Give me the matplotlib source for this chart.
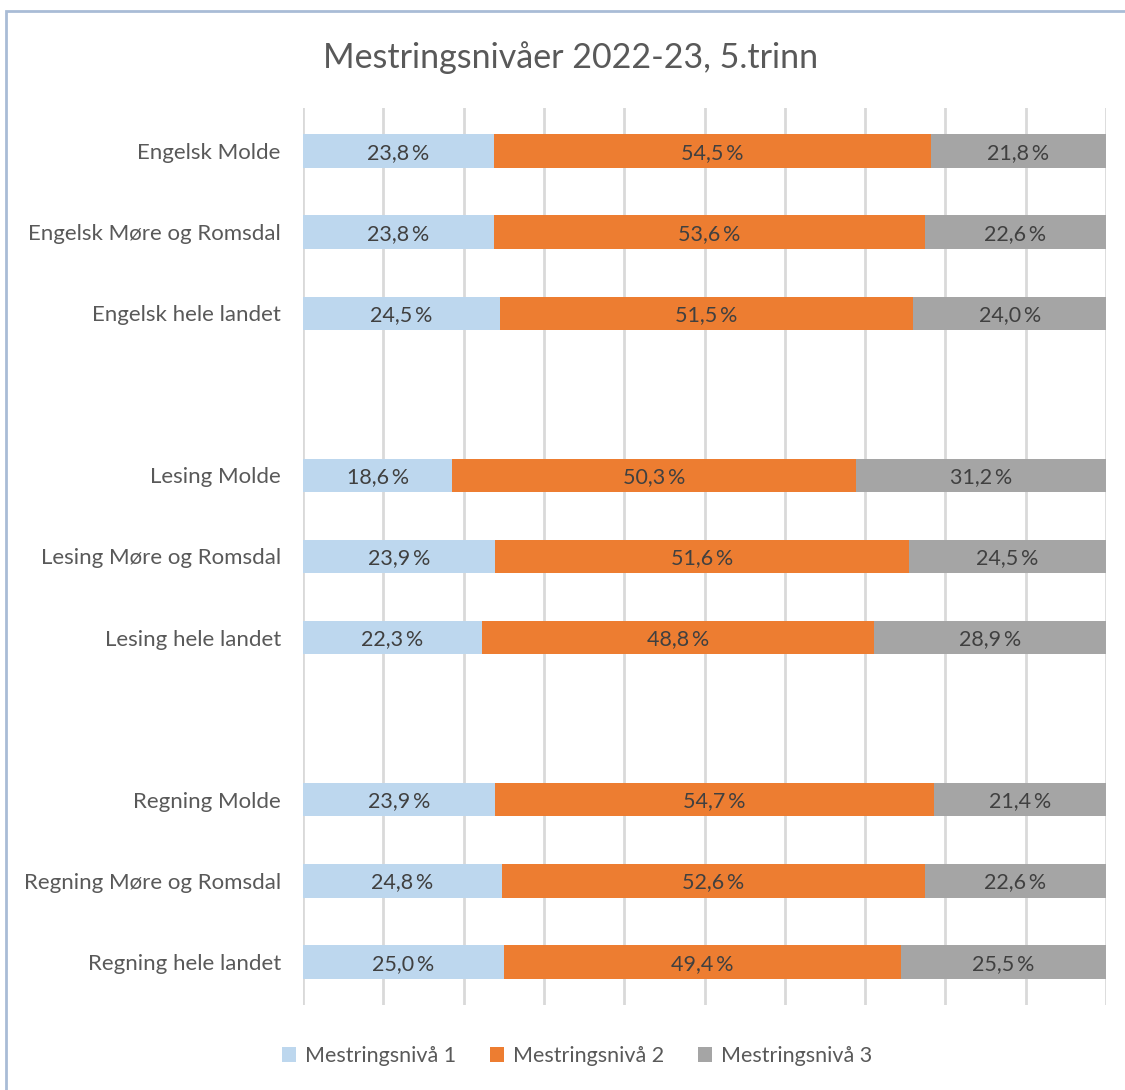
import matplotlib.pyplot as plt
from matplotlib.patches import Rectangle
import numpy as np

plt.rcParams['font.family'] = ['Lato', 'DejaVu Sans']

# rows top to bottom, "" = empty gap row
categories = [
    "Engelsk Molde", "Engelsk Møre og Romsdal", "Engelsk hele landet", "",
    "Lesing Molde", "Lesing Møre og Romsdal", "Lesing hele landet", "",
    "Regning Molde", "Regning Møre og Romsdal", "Regning hele landet",
]
niva1 = [23.8, 23.8, 24.5, np.nan, 18.6, 23.9, 22.3, np.nan, 23.9, 24.8, 25.0]
niva2 = [54.5, 53.6, 51.5, np.nan, 50.3, 51.6, 48.8, np.nan, 54.7, 52.6, 49.4]
niva3 = [21.8, 22.6, 24.0, np.nan, 31.2, 24.5, 28.9, np.nan, 21.4, 22.6, 25.5]
series_names = ["Mestringsnivå 1", "Mestringsnivå 2", "Mestringsnivå 3"]
colors = ["#BDD7EE", "#ED7D31", "#A5A5A5"]

text_col = "#595959"

fig = plt.figure(figsize=(11.25, 10.9), dpi=100)
# chart frame (cropped on right and bottom like the screenshot)
fig.patches.append(Rectangle((6 / 1125, -0.1), 1.2, 1 - 11 / 1090 + 0.1,
                             transform=fig.transFigure, fill=False,
                             edgecolor="#A9BCD6", linewidth=2))

ax = fig.add_axes([303 / 1125, 1 - 1005 / 1090, (1106 - 303) / 1125, (1005 - 108) / 1090])

data = np.array([niva1, niva2, niva3])
totals = np.nansum(data, axis=0)
totals[totals == 0] = 1
pct = data / totals * 100

y = np.arange(len(categories))
left = np.zeros(len(categories))
for vals, p, name, c in zip(data, pct, series_names, colors):
    p_plot = np.nan_to_num(p)
    ax.barh(y, p_plot, left=left, height=0.41, color=c, label=name, zorder=3)
    for yi, l, w, v in zip(y, left, p_plot, vals):
        if not np.isnan(v):
            ax.text(l + w / 2, yi + 0.02, f"{v:.1f}\u2009%".replace(".", ","), ha="center",
                    va="center", fontsize=15.5, color="#404040", zorder=4)
    left += p_plot

ax.set_xlim(0, 100)
ax.set_ylim(10.53, -0.53)
ax.set_yticks(y)
ax.set_yticklabels(categories, fontsize=16, color=text_col)
ax.set_xticks(np.arange(0, 101, 10))
ax.tick_params(axis="x", length=0, labelbottom=False)
ax.tick_params(axis="y", length=0, pad=16)
ax.grid(axis="x", color="#D9D9D9", linewidth=2, zorder=0)
for s in ax.spines.values():
    s.set_visible(False)

fig.text(571 / 1125, 1 - 58 / 1090, "Mestringsnivåer 2022-23, 5.trinn", ha="center",
         va="center", fontsize=24.5, color=text_col)

fig.legend(loc="center", bbox_to_anchor=(577 / 1125, 1 - 1056 / 1090), ncol=3,
           frameon=False, fontsize=15.5, labelcolor=text_col, handlelength=0.65,
           handleheight=0.65, handletextpad=0.4, columnspacing=1.6)

fig.savefig("out.png", dpi=100)
